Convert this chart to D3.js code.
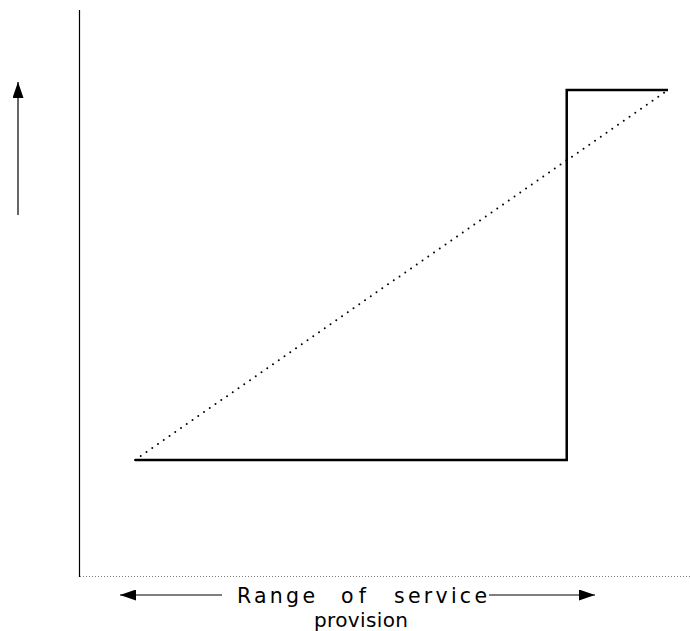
<!DOCTYPE html>
<html>
<head>
<meta charset="utf-8">
<script src="https://cdn.jsdelivr.net/npm/d3@7"></script>
<style>
body { margin: 0; background: #fff; }
svg { display: block; }
</style>
</head>
<body>
<div id="chart"></div>
<script>
// step curve (solid) and linear curve (dotted), in range-of-provision units
const stepX = [0, 81, 81, 100];
const stepY = [0, 0, 100, 100];
const lineX = [0, 100];
const lineY = [0, 100];
const axisWords = ["Range", "of", "service"];
const axisLabel2 = "provision";

const width = 690, height = 631;

const svg = d3.select("#chart").append("svg")
    .attr("width", width)
    .attr("height", height);

const defs = svg.append("defs");
defs.append("marker")
    .attr("id", "head")
    .attr("viewBox", "0 0 16 11")
    .attr("refX", 16).attr("refY", 5.5)
    .attr("markerWidth", 16).attr("markerHeight", 11)
    .attr("markerUnits", "userSpaceOnUse")
    .attr("orient", "auto")
  .append("path")
    .attr("d", "M0,0L16,5.5L0,11Z")
    .attr("fill", "#000");

const x = d3.scaleLinear().domain([0, 100]).range([135, 668]);
const y = d3.scaleLinear().domain([0, 100]).range([460, 90]);

//axes frame
svg.append("line")
    .attr("x1", 79.5).attr("x2", 79.5)
    .attr("y1", 10).attr("y2", 577)
    .attr("stroke", "#000").attr("stroke-width", 1.2);
svg.append("line")
    .attr("x1", 80).attr("x2", 690)
    .attr("y1", 576.5).attr("y2", 576.5)
    .attr("stroke", "#777").attr("stroke-width", 1)
    .attr("stroke-dasharray", "1,2");

const line = d3.line().x(d => x(d[0])).y(d => y(d[1]));

svg.append("path")
    .datum(d3.zip(lineX, lineY))
    .attr("d", line)
    .attr("fill", "none")
    .attr("stroke", "#000")
    .attr("stroke-width", 2)
    .attr("stroke-linecap", "round")
    .attr("stroke-dasharray", "0,7");

svg.append("path")
    .datum(d3.zip(stepX, stepY))
    .attr("d", line)
    .attr("fill", "none")
    .attr("stroke", "#000")
    .attr("stroke-width", 2.5);

//up arrow
svg.append("line")
    .attr("x1", 18).attr("x2", 18)
    .attr("y1", 215).attr("y2", 82)
    .attr("stroke", "#000").attr("stroke-width", 1.2)
    .attr("marker-end", "url(#head)");

//bottom label with arrows
svg.append("line")
    .attr("x1", 222).attr("x2", 120)
    .attr("y1", 595).attr("y2", 595)
    .attr("stroke", "#000").attr("stroke-width", 1.2)
    .attr("marker-end", "url(#head)");
svg.append("line")
    .attr("x1", 489).attr("x2", 595)
    .attr("y1", 595).attr("y2", 595)
    .attr("stroke", "#000").attr("stroke-width", 1.2)
    .attr("marker-end", "url(#head)");

const wordX = [237, 341, 394];
const wordW = [78, 25, 93];
svg.selectAll("text.word")
    .data(axisWords)
    .join("text")
    .attr("class", "word")
    .attr("x", (d, i) => wordX[i]).attr("y", 603)
    .attr("font-family", "DejaVu Sans, sans-serif")
    .attr("font-size", 20.5)
    .attr("textLength", (d, i) => wordW[i])
    .attr("lengthAdjust", "spacing")
    .text(d => d);

svg.append("text")
    .attr("x", 314).attr("y", 627)
    .attr("font-family", "DejaVu Sans, sans-serif")
    .attr("font-size", 20)
    .attr("textLength", 94)
    .attr("lengthAdjust", "spacing")
    .text(axisLabel2);
</script>
</body>
</html>
